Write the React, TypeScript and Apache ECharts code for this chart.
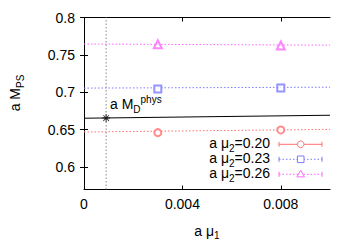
import React, { useEffect, useRef } from "react";
import * as echarts from "echarts";

const xTicks = [0, 0.004, 0.008];
const yTicks = [0.6, 0.65, 0.7, 0.75, 0.8];
const xRange = [0, 0.01];
const yRange = [0.57, 0.8];

const mu1 = [0.003, 0.008];
const mps020 = [0.646, 0.6496];
const mps023 = [0.7045, 0.7058];
const mps026 = [0.7643, 0.7625];
const fit020 = [0.6469, 0.6504];
const fit023 = [0.7056, 0.7068];
const fit026 = [0.7645, 0.763];
const physLine = [0.6653, 0.6693];
const physMu1 = 0.0009;
const physMD = 0.6656;

const legendNames = ["0.20", "0.23", "0.26"];
const colors = ["#ff7070", "#7b7bff", "#ff66ff"];

const FONT = "Liberation Sans, Arial, Helvetica, sans-serif";
const STAR =
  "path://M-0.6,-5L0.6,-5L0.6,5L-0.6,5Z M-5,-0.6L5,-0.6L5,0.6L-5,0.6Z M-3.9,-3.1L-3.1,-3.9L3.9,3.1L3.1,3.9Z M3.1,-3.9L3.9,-3.1L-3.1,3.9L-3.9,3.1Z";

const richBase = {
  n: { fontSize: 14, lineHeight: 20, verticalAlign: "middle", fontFamily: FONT, fill: "#000" },
  s: { fontSize: 10, lineHeight: 10, verticalAlign: "bottom", fontFamily: FONT, fill: "#000" },
  p: { fontSize: 10, lineHeight: 10, verticalAlign: "top", fontFamily: FONT, fill: "#000" },
};

export default function App() {
  const ref = useRef<HTMLDivElement>(null);
  useEffect(() => {
    if (!ref.current) return;
    const chart = echarts.init(ref.current, null, { renderer: "svg" });
    const axisCommon = {
      axisLine: { show: true, lineStyle: { color: "#000", width: 1 } },
      splitLine: { show: false },
    };
    const fits = [fit020, fit023, fit026];
    const pts = [mps020, mps023, mps026];
    const symbols = ["emptyCircle", "emptyRect", "emptyTriangle"];
    const symSizes = [7, 7, 8];

    const series: any[] = [];
    fits.forEach((f, i) => {
      series.push({
        type: "line",
        data: [
          [xRange[0], f[0]],
          [xRange[1], f[1]],
        ],
        showSymbol: false,
        lineStyle: { color: colors[i], width: 1, type: [1.5, 2] },
        silent: true,
        z: 2,
      });
    });
    pts.forEach((p, i) => {
      series.push({
        type: "scatter",
        data: mu1.map((x, j) => [x, p[j]]),
        symbol: symbols[i],
        symbolSize: symSizes[i],
        itemStyle: { color: colors[i], borderColor: colors[i], borderWidth: 1 },
        z: 3,
      });
    });
    series.push({
      type: "line",
      data: [
        [physMu1, yRange[0]],
        [physMu1, yRange[1]],
      ],
      showSymbol: false,
      lineStyle: { color: "#888", width: 1, type: [1.5, 2] },
      z: 1,
    });
    series.push({
      type: "line",
      data: [
        [xRange[0], physLine[0]],
        [xRange[1], physLine[1]],
      ],
      showSymbol: false,
      lineStyle: { color: "#000", width: 1 },
      z: 2,
    });
    series.push({
      type: "scatter",
      data: [[physMu1, physMD]],
      symbol: STAR,
      symbolSize: 8,
      itemStyle: { color: "#000" },
      z: 4,
    });

    const legendGraphics: any[] = [];
    const rowY = [144.3, 159.3, 174.3];
    const lx0 = 279;
    const lx1 = 322;
    const lxm = 300.7;
    legendNames.forEach((name, i) => {
      const y = rowY[i];
      const c = colors[i];
      legendGraphics.push({
        type: "text",
        x: 270,
        y: y - 1,
        style: {
          text: `{n|a μ}{s|2}{n|=${name}}`,
          align: "right",
          verticalAlign: "middle",
          rich: richBase,
        },
      });
      legendGraphics.push({
        type: "line",
        shape: { x1: lx0, y1: y, x2: lx1, y2: y },
        style: { stroke: c, lineWidth: 1, lineDash: i === 0 ? null : [1.5, 2] },
      });
      legendGraphics.push({
        type: "line",
        shape: { x1: lx0, y1: y - 2.5, x2: lx0, y2: y + 2.5 },
        style: { stroke: c, lineWidth: 1 },
      });
      legendGraphics.push({
        type: "line",
        shape: { x1: lx1, y1: y - 2.5, x2: lx1, y2: y + 2.5 },
        style: { stroke: c, lineWidth: 1 },
      });
      if (i === 0) {
        legendGraphics.push({
          type: "circle",
          shape: { cx: lxm, cy: y, r: 3.3 },
          style: { fill: "#fff", stroke: c, lineWidth: 1 },
        });
      } else if (i === 1) {
        legendGraphics.push({
          type: "rect",
          shape: { x: lxm - 3.3, y: y - 3.3, width: 6.6, height: 6.6 },
          style: { fill: "#fff", stroke: c, lineWidth: 1 },
        });
      } else {
        legendGraphics.push({
          type: "polygon",
          shape: {
            points: [
              [lxm, y - 4],
              [lxm + 3.8, y + 2.6],
              [lxm - 3.8, y + 2.6],
            ],
          },
          style: { fill: "#fff", stroke: c, lineWidth: 1 },
        });
      }
    });

    chart.setOption({
      animation: false,
      backgroundColor: "#fff",
      textStyle: { fontFamily: FONT },
      grid: { left: 84, right: 26, top: 17.5, bottom: 59.5, containLabel: false },
      xAxis: [
        {
          type: "value",
          min: xRange[0],
          max: xRange[1],
          position: "bottom",
          ...axisCommon,
          axisTick: { show: true, inside: true, length: 4, customValues: xTicks, lineStyle: { color: "#000" } },
          axisLabel: { customValues: xTicks, color: "#000", fontSize: 14, margin: 7, fontFamily: FONT },
          name: "{n|a μ}{s|1}",
          nameLocation: "middle",
          nameGap: 31,
          nameTextStyle: { rich: richBase },
        },
        {
          type: "value",
          min: xRange[0],
          max: xRange[1],
          position: "top",
          ...axisCommon,
          axisTick: { show: true, inside: true, length: 4, customValues: xTicks, lineStyle: { color: "#000" } },
          axisLabel: { show: false },
        },
      ],
      yAxis: [
        {
          type: "value",
          min: yRange[0],
          max: yRange[1],
          position: "left",
          ...axisCommon,
          axisTick: { show: true, inside: true, length: 4, customValues: yTicks, lineStyle: { color: "#000" } },
          axisLabel: { customValues: yTicks, color: "#000", fontSize: 14, margin: 9, fontFamily: FONT },
        },
        {
          type: "value",
          min: yRange[0],
          max: yRange[1],
          position: "right",
          ...axisCommon,
          axisTick: { show: true, inside: true, length: 4, customValues: yTicks, lineStyle: { color: "#000" } },
          axisLabel: { show: false },
        },
      ],
      graphic: [
        {
          type: "text",
          x: 15,
          y: 93,
          rotation: Math.PI / 2,
          style: {
            text: "{n|a M}{s|PS}",
            align: "center",
            verticalAlign: "middle",
            rich: richBase,
          },
        },
        {
          type: "text",
          x: 110,
          y: 104,
          style: {
            text: "{n|a M}{s|D}{p|phys}",
            align: "left",
            verticalAlign: "middle",
            rich: richBase,
          },
        },
        ...legendGraphics,
      ],
      series,
    });
    return () => chart.dispose();
  }, []);
  return (
    <div
      ref={ref}
      style={{ position: "fixed", left: 0, top: 0, width: 356, height: 249 }}
    />
  );
}
